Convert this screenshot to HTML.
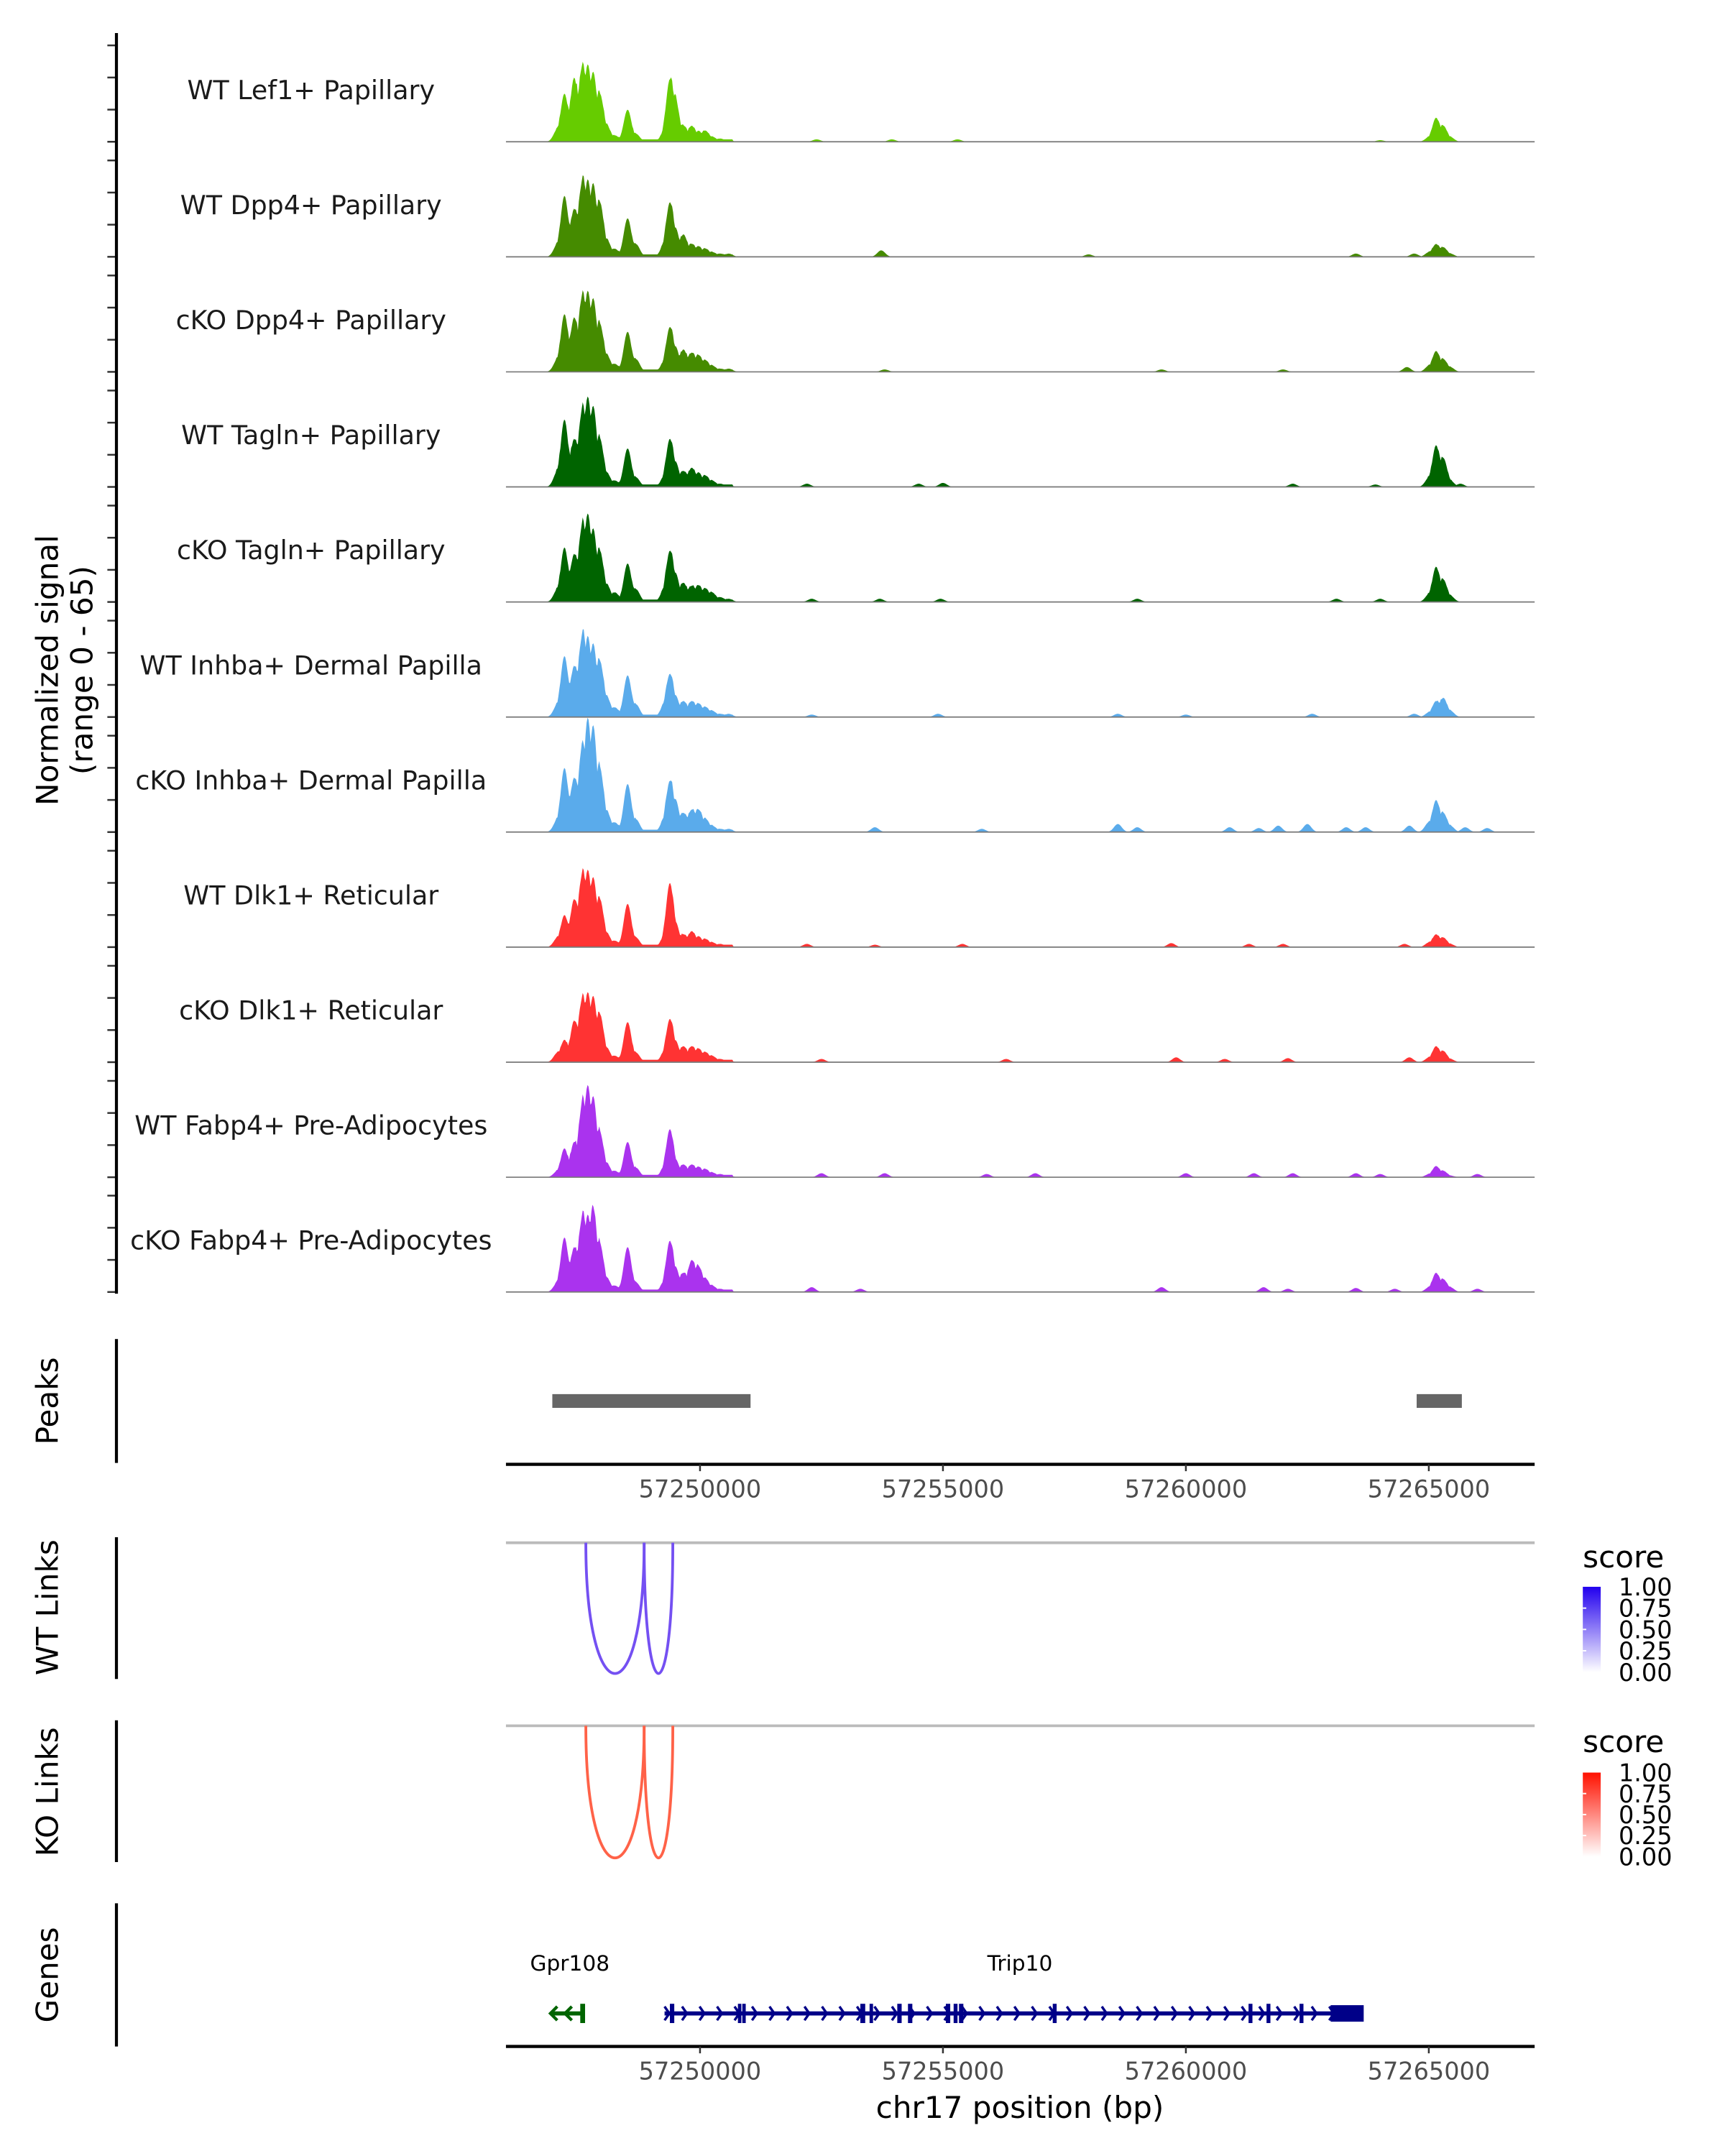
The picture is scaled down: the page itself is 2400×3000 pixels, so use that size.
<!DOCTYPE html>
<html><head><meta charset="utf-8">
<style>
html,body{margin:0;padding:0;background:#fff;}
svg{display:block;font-family:"DejaVu Sans","Liberation Sans",sans-serif;}
</style></head>
<body>
<svg id="chart" xmlns="http://www.w3.org/2000/svg" width="2400" height="3000" viewBox="0 0 1253.3 1566.6" preserveAspectRatio="none">
<defs>
<linearGradient id="gradWT" x1="0" y1="1" x2="0" y2="0"><stop offset="0" stop-color="#ffffff"/><stop offset="1" stop-color="#2200ee"/></linearGradient>
<linearGradient id="gradKO" x1="0" y1="1" x2="0" y2="0"><stop offset="0" stop-color="#ffffff"/><stop offset="1" stop-color="#ff1100"/></linearGradient>
</defs>
<g id="tracks"></g>
<g id="frame"></g>
</svg>
<script>
// ---- data ----
const trackNames = ["WT Lef1+ Papillary","WT Dpp4+ Papillary","cKO Dpp4+ Papillary","WT Tagln+ Papillary","cKO Tagln+ Papillary","WT Inhba+ Dermal Papilla","cKO Inhba+ Dermal Papilla","WT Dlk1+ Reticular","cKO Dlk1+ Reticular","WT Fabp4+ Pre-Adipocytes","cKO Fabp4+ Pre-Adipocytes"];
const trackColors = ["#66cc00","#458b00","#458b00","#006400","#006400","#5aabeb","#5aabeb","#ff3333","#ff3333","#aa33ee","#aa33ee"];
const peakPos = [57247070,57247210,57247410,57247580,57247690,57247800,57247940,57248080,57248250,57248510,57248680,57249270,57249380,57249490,57249660,57249830,57249970,57250110,57250250,57250420,57250590,57265010,57265150,57265300,57265440];
const sig1 = [8,30,40,44,42,38,30,10,4,20,5,6,39,26,10,10,6,7,3,2,1,3,15,10,3];
const sig2 = [8,38,30,46,42,40,34,10,5,24,8,8,34,16,14,8,6,5,3,2,2,3,8,6,2];
const sig3 = [8,36,34,45,44,40,30,10,5,25,8,6,28,14,14,12,10,7,4,2,2,4,13,8,3];
const sig4 = [10,42,30,46,49,44,30,8,4,24,6,6,30,14,10,12,8,7,4,2,1,6,26,18,4];
const sig5 = [8,34,30,46,48,40,32,10,6,24,8,8,32,16,12,10,10,8,6,3,2,5,22,14,4];
const sig6 = [8,38,32,50,44,40,35,12,6,26,8,8,27,12,10,10,8,6,4,2,2,3,10,12,4];
const sig7 = [8,40,34,50,62,58,40,12,6,30,8,8,32,18,12,14,14,8,4,2,2,6,20,12,4];
const sig8 = [6,20,30,44,42,38,30,8,4,27,6,6,40,14,8,10,6,5,3,2,1,3,8,6,2];
const sig9 = [6,14,26,38,38,36,30,8,4,25,6,6,27,12,10,10,8,6,4,2,1,3,10,7,2];
const sig10 = [4,18,22,45,50,44,28,8,4,22,6,6,30,10,8,8,6,5,3,2,1,2,7,4,1];
const sig11 = [6,34,28,46,42,48,30,8,4,28,6,6,32,14,12,20,16,8,4,2,1,3,12,8,3];
const extra1 = [[57252400,1.5],[57253950,1.5],[57255300,1.5],[57264000,1]];
const extra2 = [[57253730,4],[57258000,1.5],[57263500,2],[57264700,2]];
const extra3 = [[57264550,3],[57262000,1.5],[57259500,1.5],[57253800,1.5]];
const extra4 = [[57252200,2],[57254500,2],[57255000,2.5],[57262200,2],[57263900,1.5],[57265650,2]];
const extra5 = [[57252300,2],[57253700,2],[57254950,2],[57259000,2],[57263100,2],[57264000,2]];
const extra6 = [[57252300,1.5],[57254900,2],[57258600,2],[57260000,1.5],[57262600,2],[57264700,2]];
const extra7 = [[57253600,3],[57255800,2],[57258600,5],[57259000,3],[57260900,3],[57261500,2.5],[57261900,4],[57262500,5],[57263300,3],[57263700,3],[57264600,4],[57265000,6],[57265750,3],[57266200,2.5]];
const extra8 = [[57252200,2],[57253600,1.5],[57255400,2],[57259700,2.5],[57261300,2],[57262000,2],[57264500,2]];
const extra9 = [[57252500,2],[57256300,2],[57259800,3],[57260800,2],[57262100,2.5],[57264600,3]];
const extra10 = [[57252500,2.5],[57253800,2.5],[57255900,2],[57256900,2.5],[57260000,2.5],[57261400,2.5],[57262200,2.5],[57263500,2.5],[57264000,2],[57266000,2]];
const extra11 = [[57252300,3],[57253300,2],[57259500,3],[57261600,3],[57262100,2],[57263500,2.5],[57264300,2],[57266000,2]];
const xTicks = [57250000,57255000,57260000,57265000];
const peakRegions = [[57246960,57251040],[57264750,57265680]];
const wtLinks = [[57247650,57248850],[57248850,57249440]];
const koLinks = [[57247650,57248850],[57248850,57249440]];
const legendTicks = ["1.00","0.75","0.50","0.25","0.00"];
const geneNames = ["Gpr108","Trip10"];
const gpr108Span = [57246920,57247620];
const trip10Span = [57249270,57263590];
const trip10Exons = [[57249380,57249470],[57250780,57250830],[57250870,57250920],[57253300,57253400],[57253490,57253560],[57254060,57254150],[57254280,57254370],[57255060,57255150],[57255220,57255300],[57255330,57255420],[57257260,57257340],[57261290,57261370],[57261660,57261740],[57262340,57262420],[57262980,57263660]];
const signals = [sig1,sig2,sig3,sig4,sig5,sig6,sig7,sig8,sig9,sig10,sig11];
const extras = [extra1,extra2,extra3,extra4,extra5,extra6,extra7,extra8,extra9,extra10,extra11];

// ---- scales ----
const NS="http://www.w3.org/2000/svg";
const X0=367.6, X1=1115, PX_PER_KB=35.3, REF=57250000, REFX=508.6;
const xs = bp => REFX + (bp-REF)/1000*PX_PER_KB;
const bpMin = REF - (REFX-X0)/PX_PER_KB*1000, bpMax = REF + (X1-REFX)/PX_PER_KB*1000;
const YS = 1.167;
const baselines = [103,186.6,270.2,353.8,437.4,521,604.6,688.2,771.8,855.4,938.8];
const ys = (base,v) => base - v*YS;

function el(tag, attrs, parent){const e=document.createElementNS(NS,tag);for(const k in attrs)e.setAttribute(k,attrs[k]);parent.appendChild(e);return e;}
const T=document.getElementById('tracks'), F=document.getElementById('frame');

signals.forEach((s,i)=>{
  const base=baselines[i];
  const g=el('g',{},T);
  
  
  const sigma=80;
  let d='M'+X0+','+base;
  for(let bp=bpMin; bp<=bpMax; bp+=20){
    let v=0, sum=0;
    for(let k=0;k<peakPos.length;k++){const q=(bp-peakPos[k])/sigma; if(Math.abs(q)<5){const c=s[k]*Math.exp(-0.5*q*q); v=Math.max(v,c); sum+=c;}}
    for(const [p,h] of extras[i]){const q=(bp-p)/sigma; if(Math.abs(q)<5) v=Math.max(v,h*Math.exp(-0.5*q*q));}
    v=Math.max(v, 0.8*sum>v? Math.min(sum*0.75, v*1.15):v);
    if(bp>peakPos[0]-40 && bp<peakPos[20]+80) v=Math.max(v,1.5);
    d+=' L'+xs(bp).toFixed(2)+','+ys(base,v).toFixed(2);
  }
  d+=' L'+X1+','+base+' Z';
  const a=el('path',{d:d,fill:trackColors[i],stroke:'none'},g);
  
  
  const bl=el('line',{x1:X0,x2:X1,y1:base,y2:base,stroke:'#777','stroke-width':0.9},g);
  
  
  const lb=el('text',{x:226,y:base-31,'text-anchor':'middle','font-size':19,fill:'#1a1a1a'},g);
  lb.textContent=trackNames[i];
  
  
  for(let k=0;k<4;k++){
    const t=el('line',{x1:78,x2:84.6,y1:ys(base,k*20),y2:ys(base,k*20),stroke:'#333','stroke-width':1.3},g);
    
    
  }
});

function vline(y1,y2,name){const l=el('line',{x1:84.6,x2:84.6,y1:y1,y2:y2,stroke:'#000','stroke-width':2.2},F);}
vline(24,940,'signal-y-axis');vline(973,1063,'peaks-y-axis');vline(1117,1220,'wt-links-y-axis');vline(1250,1353,'ko-links-y-axis');vline(1383,1487,'genes-y-axis');
function rlabel(txt,x,y,name){const t=el('text',{x:0,y:0,transform:'translate('+x+','+y+') rotate(-90)','text-anchor':'middle','font-size':22,fill:'#000'},F);t.textContent=txt;}
rlabel('Normalized signal',42,487,'y-axis-title');
rlabel('(range 0 - 65)',67,487,'y-axis-range');
rlabel('Peaks',42,1018,'peaks-title');
rlabel('WT Links',42,1168,'wt-links-title');
rlabel('KO Links',42,1302,'ko-links-title');
rlabel('Genes',42,1435,'genes-title');

peakRegions.forEach(([a,b])=>{
  const r=el('rect',{x:xs(a),y:1013,width:xs(b)-xs(a),height:10,fill:'#666'},F);
  
  
});
function xaxis(y,name){
  const l=el('line',{x1:X0,x2:X1,y1:y,y2:y,stroke:'#000','stroke-width':2.3},F);
  
  
  xTicks.forEach(v=>{
    const t=el('line',{x1:xs(v),x2:xs(v),y1:y,y2:y+5,stroke:'#333','stroke-width':1.3},F);
    
    
    const tx=el('text',{x:xs(v),y:y+24,'text-anchor':'middle','font-size':17.5,fill:'#4d4d4d'},F);
    tx.textContent=String(v);
    
    
  });
}
xaxis(1064,'peaks-x-axis');
xaxis(1487,'genes-x-axis');
const xt=el('text',{x:741,y:1539,'text-anchor':'middle','font-size':22,fill:'#000'},F);
xt.textContent='chr17 position (bp)';



function links(arr,y0,depth,color,name){
  const gl=el('line',{x1:X0,x2:X1,y1:y0,y2:y0,stroke:'#bbb','stroke-width':2},F);
  
  
  arr.forEach(([a,b])=>{
    const x1=xs(a),x2=xs(b),yc=y0+depth/0.75;
    const p=el('path',{d:`M${x1},${y0} C${x1},${yc} ${x2},${yc} ${x2},${y0}`,fill:'none',stroke:color,'stroke-width':2},F);
    
    
  });
}
links(wtLinks,1121,95,'#7450f2','wt-link');
links(koLinks,1254,96,'#ff6248','ko-link');

function legend(yTitle,yTop,yBot,grad,name){
  const t=el('text',{x:1150,y:yTitle,'font-size':22,fill:'#000'},F);
  t.textContent='score';
  
  
  const r=el('rect',{x:1150,y:yTop,width:13,height:yBot-yTop,fill:'url(#'+grad+')'},F);
  
  
  legendTicks.forEach((lab,k)=>{
    const y=yTop+(yBot-yTop)*k/4;
    const tx=el('text',{x:1176,y:y+6.3,'font-size':17.5,fill:'#000'},F);
    tx.textContent=lab;
    
    
    if(k>0&&k<4){const tl=el('line',{x1:1150,x2:1152.5,y1:y,y2:y,stroke:'#fff','stroke-width':1},F);}
  });
}
legend(1139,1153,1215,'gradWT','wt-legend');
legend(1273,1288,1349,'gradKO','ko-legend');

const GY=1463;
const gp=el('g',{},F);


el('line',{x1:xs(gpr108Span[0]),x2:xs(gpr108Span[1]),y1:GY,y2:GY,stroke:'#006400','stroke-width':3},gp);
el('rect',{x:xs(gpr108Span[1])-3,y:GY-7,width:3.5,height:14,fill:'#006400'},gp);
[gpr108Span[0],gpr108Span[0]+300].forEach(b=>{const x=xs(b);el('path',{d:`M${x+5},${GY-5} L${x},${GY} L${x+5},${GY+5}`,fill:'none',stroke:'#006400','stroke-width':2.2},gp);});
const g1=el('text',{x:414,y:1432,'text-anchor':'middle','font-size':15.5,fill:'#000'},F);
g1.textContent=geneNames[0];



const tr=el('g',{},F);


el('line',{x1:xs(trip10Span[0]),x2:xs(trip10Span[1]),y1:GY,y2:GY,stroke:'#000088','stroke-width':3},tr);
for(let b=trip10Span[0]; b<trip10Span[1]-200; b+=360){const x=xs(b);el('path',{d:`M${x},${GY-5} L${x+3.5},${GY} L${x},${GY+5}`,fill:'none',stroke:'#000088','stroke-width':1.8},tr);}
trip10Exons.forEach(([a,b])=>{
  const big=(b-a)>200;
  const r=el('rect',{x:xs(a),y:big?GY-6:GY-7,width:Math.max(xs(b)-xs(a),2.5),height:big?12:14,fill:'#000088'},tr);
  
  
});
const g2=el('text',{x:741,y:1432,'text-anchor':'middle','font-size':15.5,fill:'#000'},F);
g2.textContent=geneNames[1];


</script>
</body></html>
